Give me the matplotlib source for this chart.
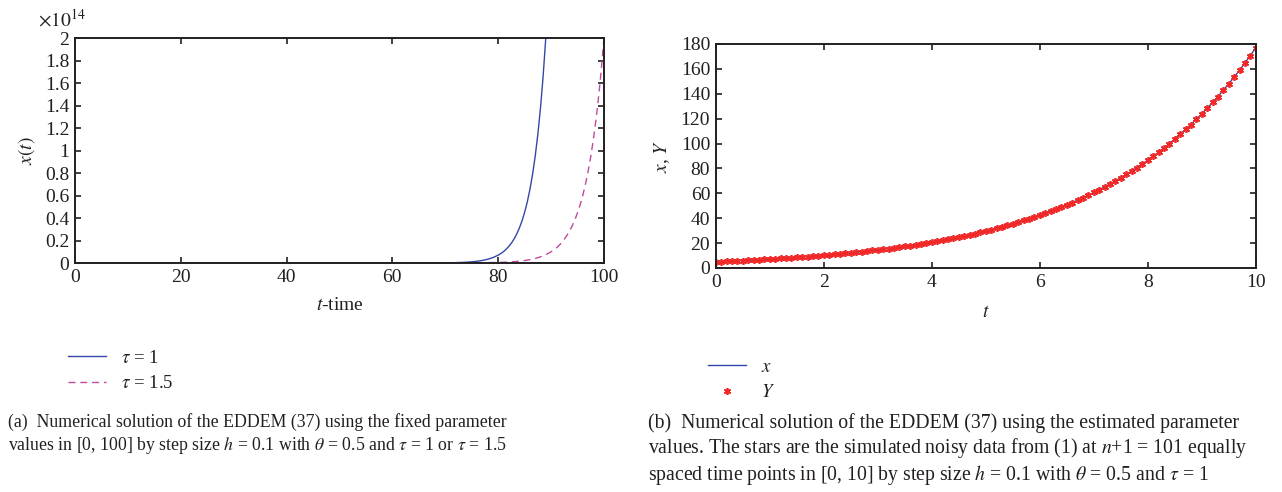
import matplotlib
matplotlib.use("Agg")
import matplotlib.pyplot as plt
from matplotlib.ticker import FuncFormatter, MultipleLocator

plt.rcParams['font.family'] = 'Liberation Serif'
plt.rcParams['mathtext.fontset'] = 'stix'
plt.rcParams['font.size'] = 14

TXT = '#231f20'

# ---- panel (a): x(t) in units of 1e14 ----
t_tau1 = [0, 60, 70, 71, 72, 73, 74, 75, 76, 77, 78, 79, 80, 80.5, 81, 81.5, 82, 82.5,
          83, 83.5, 84, 84.5, 85, 85.5, 86, 86.5, 87, 87.5, 88, 88.5, 89, 89.5]
x_tau1 = [0, 0, 0.0017, 0.0024, 0.0035, 0.0051, 0.0074, 0.0108, 0.0156, 0.0227, 0.0330,
          0.0480, 0.0697, 0.0840, 0.101, 0.122, 0.147, 0.177, 0.213, 0.257, 0.310, 0.373,
          0.450, 0.542, 0.653, 0.787, 0.948, 1.143, 1.377, 1.660, 2.0, 2.41]

t_tau15 = [0, 75, 80, 81, 82, 83, 84, 85, 86, 87, 88, 89, 90, 90.5, 91, 91.5, 92, 92.5,
           93, 93.5, 94, 94.5, 95, 95.5, 96, 96.5, 97, 97.5, 98, 98.5, 99, 99.5, 100]
x_tau15 = [0, 0.0011, 0.0050, 0.0067, 0.0090, 0.0122, 0.0165, 0.0222, 0.0300, 0.0405,
           0.0546, 0.0738, 0.0996, 0.116, 0.134, 0.156, 0.181, 0.211, 0.245, 0.285, 0.331,
           0.384, 0.446, 0.518, 0.602, 0.700, 0.813, 0.945, 1.098, 1.275, 1.482, 1.721, 2.0]

# ---- panel (b): estimated solution x and noisy data Y at t = 0, 0.1, ..., 10 ----
t_obs = [i / 10 for i in range(101)]
Y_obs = [5.00, 5.18, 5.37, 5.57, 5.77, 5.98, 6.19, 6.42, 6.65, 6.89,
         7.14, 7.40, 7.67, 7.95, 8.24, 8.54, 8.85, 9.17, 9.50, 9.84,
         10.20, 10.57, 10.96, 11.35, 11.77, 12.19, 12.64, 13.09, 13.57, 14.06,
         14.57, 15.10, 15.65, 16.22, 16.81, 17.42, 18.05, 18.71, 19.39, 20.09,
         20.82, 21.58, 22.36, 23.17, 24.01, 24.88, 25.79, 26.72, 27.69, 28.70,
         29.74, 30.82, 31.94, 33.10, 34.30, 35.54, 36.83, 38.17, 39.55, 40.99,
         42.48, 44.02, 45.62, 47.27, 48.99, 50.77, 52.61, 54.52, 56.50, 58.55,
         60.68, 62.88, 65.16, 67.53, 69.98, 72.52, 75.15, 77.88, 80.71, 83.64,
         86.68, 89.82, 93.08, 96.46, 99.97, 103.6, 107.4, 111.3, 115.3, 119.5,
         123.8, 128.3, 133.0, 137.8, 142.8, 148.0, 153.4, 158.9, 164.7, 170.7, 176.9]
x_est = Y_obs  # the fitted solution passes through the data

fig = plt.figure(figsize=(12.82, 4.92), dpi=100)
ax1 = fig.add_axes([0.0585, 0.4654, 0.4126, 0.4573])
ax2 = fig.add_axes([0.5583, 0.4553, 0.4212, 0.4553])

fmt = FuncFormatter(lambda v, p: '%g' % round(v, 6))

for ax in (ax1, ax2):
    ax.tick_params(direction='in', top=True, right=True, length=4, width=1.2,
                   colors=TXT, labelsize=14, pad=4)
    for s in ax.spines.values():
        s.set_linewidth(1.4)
        s.set_color(TXT)
    ax.xaxis.set_major_formatter(fmt)
    ax.yaxis.set_major_formatter(fmt)

l1, = ax1.plot(t_tau1, x_tau1, color='#3347a8', lw=1.0)
l2, = ax1.plot(t_tau15, x_tau15, color='#c04a9c', lw=1.0, ls=(0, (5, 3.5)))
ax1.set_xlim(0, 100)
ax1.set_ylim(0, 2)
ax1.xaxis.set_major_locator(MultipleLocator(20))
ax1.yaxis.set_major_locator(MultipleLocator(0.2))
ax1.set_xlabel('$t$-time', color=TXT, fontsize=14, labelpad=8)
ax1.set_ylabel('$x(t)$', color=TXT, fontsize=14, labelpad=6)
ax1.text(-0.07, 1.035, r'$\times10^{14}$', transform=ax1.transAxes, color=TXT,
         fontsize=14, va='bottom', ha='left')
ax1.legend([l1, l2], [r'$\tau$ = 1', r'$\tau$ = 1.5'], loc='upper left',
           bbox_to_anchor=(-0.045, -0.31), frameon=False, fontsize=13.5,
           handlelength=2.0, labelspacing=0.45, labelcolor=TXT)

l3, = ax2.plot(t_obs, x_est, color='#3347a8', lw=1.0)
l4, = ax2.plot(t_obs, Y_obs, ls='none', marker=(6, 2, 0), color='#f02828',
               markersize=5, mew=1.2)
ax2.set_xlim(0, 10)
ax2.set_ylim(0, 180)
ax2.xaxis.set_major_locator(MultipleLocator(2))
ax2.yaxis.set_major_locator(MultipleLocator(20))
ax2.set_xlabel('$t$', color=TXT, fontsize=14, labelpad=10)
ax2.set_ylabel('$x$, $Y$', color=TXT, fontsize=14, labelpad=6)
ax2.legend([l3, l4], ['$x$', '$Y$'], loc='upper left',
           bbox_to_anchor=(-0.045, -0.33), frameon=False, fontsize=13.5,
           handlelength=2.0, labelspacing=0.45, labelcolor=TXT)

cap_a = ("(a)  Numerical solution of the EDDEM (37) using the fixed parameter\n"
         r"values in [0, 100] by step size $h$ = 0.1 with $\theta$ = 0.5 and $\tau$ = 1 or $\tau$ = 1.5")
cap_b = ("(b)  Numerical solution of the EDDEM (37) using the estimated parameter\n"
         "values. The stars are the simulated noisy data from (1) at $n$+1 = 101 equally\n"
         r"spaced time points in [0, 10] by step size $h$ = 0.1 with $\theta$ = 0.5 and $\tau$ = 1")
fig.text(8 / 1282, 1 - 413 / 492, cap_a, va='top', ha='left', color=TXT,
         fontsize=12.8, linespacing=1.3)
fig.text(648 / 1282, 1 - 413 / 492, cap_b, va='top', ha='left', color=TXT,
         fontsize=14.2, linespacing=1.17)

fig.savefig('out.png', dpi=100)
